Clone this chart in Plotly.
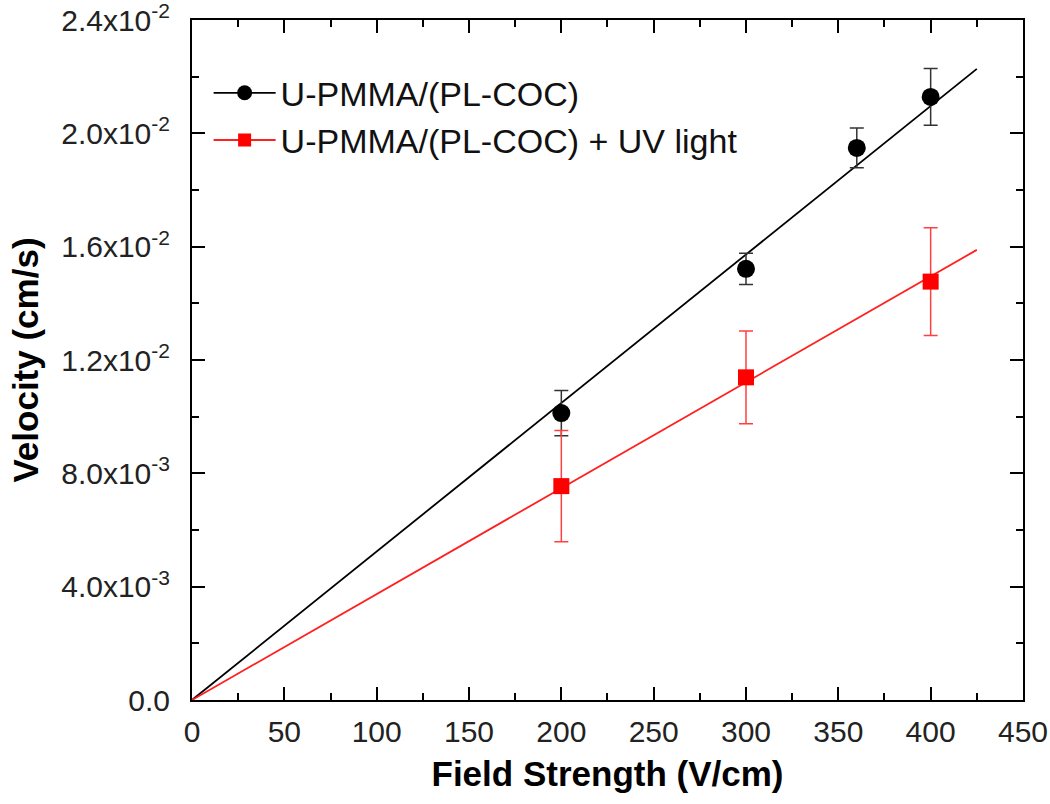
import plotly.graph_objects as go

# Data
field = [200, 300, 360, 400]
vel_black = [0.01013, 0.01522, 0.01949, 0.02129]
err_black = [0.00080, 0.00055, 0.00070, 0.00100]

field_uv = [200, 300, 400]
vel_red = [0.00755, 0.01139, 0.01477]
err_red = [0.00196, 0.00164, 0.00190]

fit_x = [0, 425]
fit_black = [0, 0.02228]
fit_red = [0, 0.01589]

x_tickvals = [0, 50, 100, 150, 200, 250, 300, 350, 400, 450]
y_tickvals = [0, 0.004, 0.008, 0.012, 0.016, 0.020, 0.024]
y_ticktext = ["0.0", "4.0x10<sup>-3</sup>", "8.0x10<sup>-3</sup>", "1.2x10<sup>-2</sup>",
              "1.6x10<sup>-2</sup>", "2.0x10<sup>-2</sup>", "2.4x10<sup>-2</sup>"]

series_names = ["U-PMMA/(PL-COC)", "U-PMMA/(PL-COC) + UV light"]

FONT = "Liberation Sans, Arial, sans-serif"

fig = go.Figure()

# fit lines
fig.add_trace(go.Scatter(x=fit_x, y=fit_black, mode="lines",
                         line=dict(color="black", width=1.8), showlegend=False))
fig.add_trace(go.Scatter(x=fit_x, y=fit_red, mode="lines",
                         line=dict(color="#ff2020", width=1.8), showlegend=False))

# data points
fig.add_trace(go.Scatter(x=field, y=vel_black, mode="markers",
                         marker=dict(symbol="circle", size=18, color="black"),
                         error_y=dict(type="data", array=err_black, color="#333333",
                                      thickness=1.5, width=7),
                         showlegend=False))
fig.add_trace(go.Scatter(x=field_uv, y=vel_red, mode="markers",
                         marker=dict(symbol="square", size=16, color="#ff0000"),
                         error_y=dict(type="data", array=err_red, color="#ff4040",
                                      thickness=1.5, width=7),
                         showlegend=False))

# legend entries
fig.add_trace(go.Scatter(x=[None], y=[None], mode="lines+markers", name=series_names[0],
                         line=dict(color="black", width=1.8),
                         marker=dict(symbol="circle", size=15, color="black")))
fig.add_trace(go.Scatter(x=[None], y=[None], mode="lines+markers", name=series_names[1],
                         line=dict(color="#ff2020", width=1.8),
                         marker=dict(symbol="square", size=13, color="#ff0000")))

axis_common = dict(
    showline=True, linecolor="black", linewidth=2, mirror="allticks",
    ticks="inside", ticklen=13, tickwidth=2, tickcolor="black",
    showgrid=False, zeroline=False, automargin=False, ticklabeloverflow="allow",
    tickfont=dict(family=FONT, size=30, color="#222222"),
)

fig.update_xaxes(
    range=[0, 450.01], tickvals=x_tickvals, ticklabelstandoff=4,
    minor=dict(ticks="inside", ticklen=7, tickwidth=2, tickcolor="black", dtick=25, tick0=0),
    title=dict(text="<b>Field Strength (V/cm)</b>", standoff=14,
               font=dict(family=FONT, size=35, color="black")),
    **axis_common,
)
fig.update_yaxes(
    range=[0, 0.024005], tickvals=y_tickvals, ticktext=y_ticktext, ticklabelstandoff=14,
    minor=dict(ticks="inside", ticklen=7, tickwidth=2, tickcolor="black", dtick=0.002, tick0=0),
    title=dict(text="<b>Velocity (cm/s)</b>", standoff=12,
               font=dict(family=FONT, size=35, color="black")),
    **axis_common,
)

fig.update_layout(
    width=1050, height=804,
    margin=dict(l=192, r=27, t=20, b=104),
    plot_bgcolor="white", paper_bgcolor="white",
    legend=dict(x=0.02, y=0.935, xanchor="left", yanchor="top",
                font=dict(family=FONT, size=34, color="#111111"),
                bgcolor="rgba(0,0,0,0)", itemwidth=62, tracegroupgap=0),
)

fig.write_html("out.html", config={"displayModeBar": False},
               post_script="document.body.style.margin='0';document.body.style.overflow='hidden';")
